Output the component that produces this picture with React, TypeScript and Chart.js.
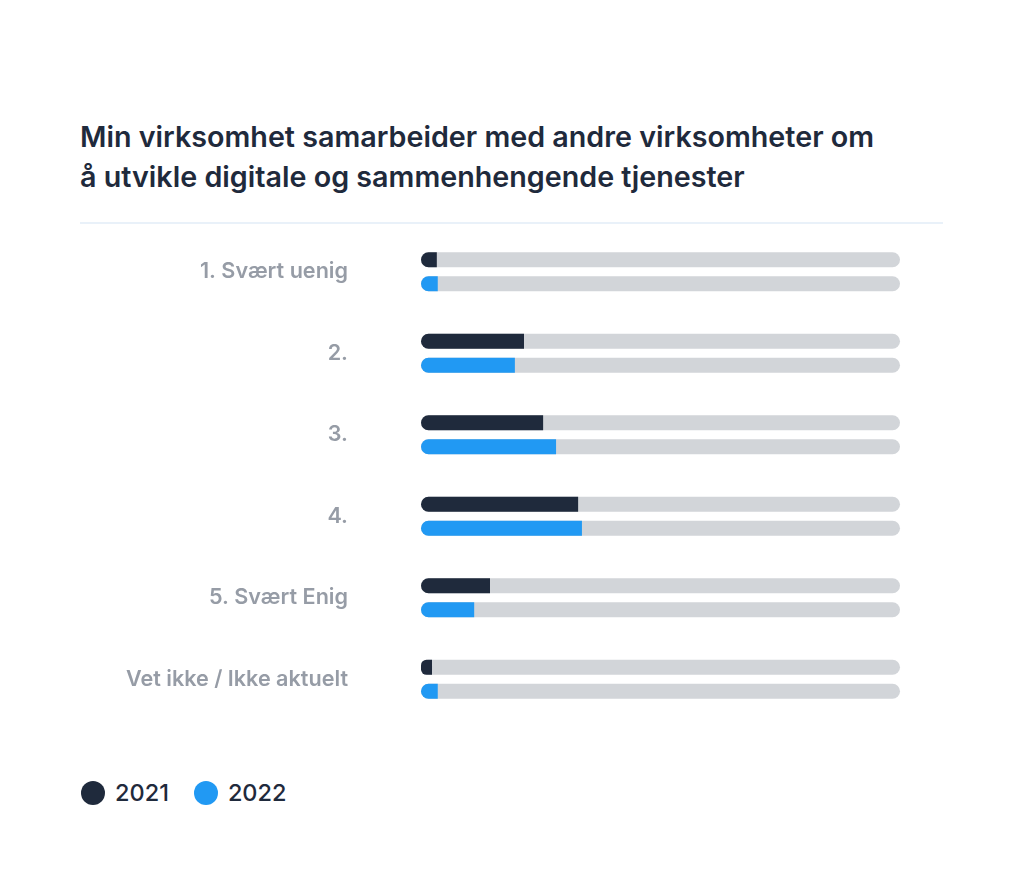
import React, { useEffect, useRef } from "react";
import { Chart, registerables } from "chart.js";

Chart.register(...registerables);

const categories = ["1. Svært uenig", "2.", "3.", "4.", "5. Svært Enig", "Vet ikke / Ikke aktuelt"];
const values2021 = [3.3, 21.5, 25.5, 32.8, 14.4, 2.3];
const values2022 = [3.5, 19.6, 28.2, 33.6, 11.1, 3.5];
const seriesLabels = ["2021", "2022"];
const seriesColors = ["#1f2a3c", "#2199f3"];
const titleLines = ["Min virksomhet samarbeider med andre virksomheter om", "å utvikle digitale og sammenhengende tjenester"];

const FONT = "Inter, 'Noto Sans', sans-serif";

const trackPlugin = {
  id: "track",
  beforeDatasetsDraw(chart: any) {
    const ctx = chart.ctx;
    const xs = chart.scales.x;
    const x0 = xs.getPixelForValue(0);
    const x1 = xs.getPixelForValue(100);
    ctx.save();
    ctx.fillStyle = "#d2d5d9";
    chart.data.datasets.forEach((_: any, di: number) => {
      const meta = chart.getDatasetMeta(di);
      meta.data.forEach((el: any) => {
        const { y, height } = el.getProps(["y", "height"], true);
        const r = height / 2;
        ctx.beginPath();
        ctx.roundRect(x0, y - r, x1 - x0, height, r);
        ctx.fill();
      });
    });
    ctx.restore();
  },
};

export default function App() {
  const ref = useRef<HTMLCanvasElement | null>(null);

  useEffect(() => {
    document.body.style.margin = "0";
    const c = new Chart(ref.current!, {
      type: "bar",
      data: {
        labels: categories,
        datasets: [
          { label: seriesLabels[0], data: values2021, backgroundColor: seriesColors[0] },
          { label: seriesLabels[1], data: values2022, backgroundColor: seriesColors[1] },
        ],
      },
      options: {
        indexAxis: "y",
        animation: false,
        responsive: false,
        maintainAspectRatio: false,
        layout: { autoPadding: false, padding: { left: 0, right: 124, top: 0, bottom: 0 } },
        datasets: {
          bar: {
            categoryPercentage: 48 / 81.5,
            barPercentage: 0.625,
            borderSkipped: false,
            borderRadius: { topLeft: 7.5, bottomLeft: 7.5, topRight: 0, bottomRight: 0 },
          },
        },
        plugins: { legend: { display: false }, tooltip: { enabled: false }, title: { display: false } },
        scales: {
          x: { min: 0, max: 100, display: false, grid: { display: false } },
          y: {
            grid: { display: false, drawTicks: false },
            border: { display: false },
            afterFit(scale: any) {
              scale.width = 421;
              scale.paddingTop = 0;
              scale.paddingBottom = 0;
            },
            ticks: {
              padding: 73,
              color: "#969ca6",
              font: { family: FONT, size: 21.6, weight: "600", lineHeight: 1.05 },
            },
          },
        },
      },
      plugins: [trackPlugin],
    } as any);
    return () => c.destroy();
  }, []);

  return (
    <div style={{ position: "relative", width: 1024, height: 890, background: "#fff", fontFamily: FONT }}>
      <div
        style={{
          position: "absolute",
          left: 80,
          top: 117,
          fontSize: 28.7,
          fontWeight: 600,
          lineHeight: "40px",
          color: "#1f2a3c",
          whiteSpace: "nowrap",
        }}
      >
        {titleLines.map((t, i) => (
          <div key={i}>{t}</div>
        ))}
      </div>
      <div style={{ position: "absolute", left: 80, top: 222, width: 863, height: 2, background: "#e9f1f9" }} />
      <canvas ref={ref} width={1024} height={489} style={{ position: "absolute", left: 0, top: 231, width: 1024, height: 489 }} />
      <div style={{ position: "absolute", left: 81, top: 779, display: "flex", alignItems: "center", fontSize: 23.5, fontWeight: 500, color: "#1f2a3c" }}>
        {seriesLabels.map((s, i) => (
          <div key={s} style={{ display: "flex", alignItems: "center", marginRight: 25 }}>
            <span style={{ width: 24, height: 24, borderRadius: 12, background: seriesColors[i], display: "inline-block", marginRight: 10 }} />
            <span style={{ lineHeight: "28px" }}>{s}</span>
          </div>
        ))}
      </div>
    </div>
  );
}
